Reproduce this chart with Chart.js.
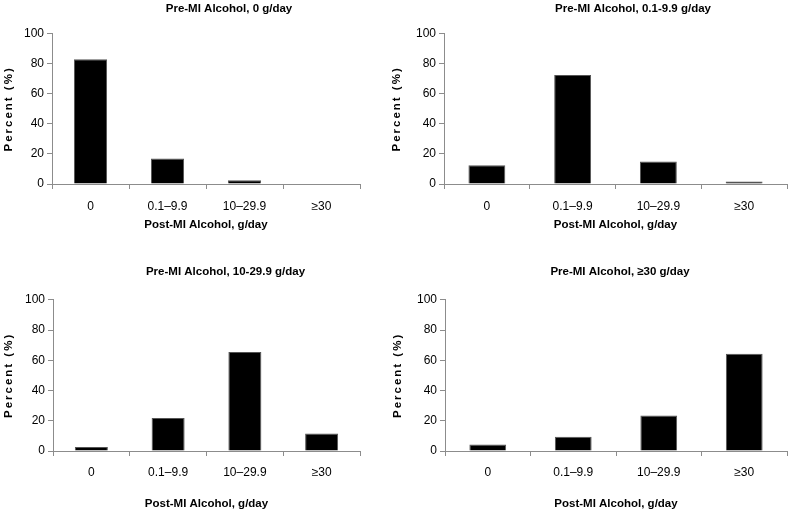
<!DOCTYPE html>
<html>
<head>
<meta charset="utf-8">
<script src="https://cdn.jsdelivr.net/npm/chart.js@4"></script>
<style>
  html, body { margin: 0; padding: 0; background: #fff; overflow: hidden; }
  body { width: 788px; height: 512px; position: relative; }
  .panel { position: absolute; }
</style>
</head>
<body>
<div class="panel" style="left:0px;top:0px;width:458px;height:233px"><canvas id="c1"></canvas></div>
<div class="panel" style="left:388px;top:0px;width:490px;height:233px"><canvas id="c2"></canvas></div>
<div class="panel" style="left:0px;top:260px;width:451px;height:252px"><canvas id="c3"></canvas></div>
<div class="panel" style="left:389px;top:260px;width:462px;height:252px"><canvas id="c4"></canvas></div>
<script>
  // categories on the x axis (post-MI intake)
  var postMiLabels = ['0', '0.1\u20139.9', '10\u201329.9', '\u226530'];

  // panel titles (pre-MI intake)
  var panelTitles = [
    'Pre-MI Alcohol, 0 g/day',
    'Pre-MI Alcohol, 0.1-9.9 g/day',
    'Pre-MI Alcohol, 10-29.9 g/day',
    'Pre-MI Alcohol, \u226530 g/day'
  ];

  // percent values
  var pre0Values  = [83, 17, 2.5, 0];
  var pre01Values = [12.5, 72.5, 15, 1.6];
  var pre10Values = [2.7, 21.8, 65.5, 11.5];
  var pre30Values = [4.3, 9.5, 23.4, 64.3];

  var yTicks = [0, 20, 40, 60, 80, 100];

  const FONT = "'Liberation Sans', Arial, sans-serif";
  const axisGray = '#8c8c8c';

  // letter-spaced y title like the original
  const spacedTitle = {
    id: 'spacedTitle',
    beforeDraw(chart) {
      const s = chart.scales.y;
      if (s && !s._spaced) {
        const orig = s.drawTitle.bind(s);
        s.drawTitle = function() {
          chart.ctx.save();
          chart.ctx.letterSpacing = '2px';
          orig();
          chart.ctx.restore();
        };
        s._spaced = true;
      }
    }
  };

  function makeChart(id, title, values, opts) {
    const ctx = document.getElementById(id);
    return new Chart(ctx, {
      type: 'bar',
      data: {
        labels: postMiLabels,
        datasets: [{
          data: values,
          backgroundColor: '#000',
          borderColor: '#555',
          borderWidth: 1,
          categoryPercentage: 1,
          barPercentage: 0.43
        }]
      },
      plugins: [spacedTitle],
      options: {
        responsive: true,
        maintainAspectRatio: false,
        animation: false,
        layout: { padding: 0 },
        plugins: {
          legend: { display: false },
          tooltip: { enabled: false },
          title: {
            display: true,
            text: title,
            color: '#000',
            font: { family: FONT, size: 11.5, weight: 'bold' },
            padding: { top: opts.titleTop, bottom: opts.titleBottom }
          }
        },
        scales: {
          x: {
            afterFit: function(s) { s.height = opts.xHeight; },
            grid: { display: true, drawOnChartArea: false, color: axisGray, tickLength: 5, offset: true },
            border: { display: true, color: axisGray, width: 1 },
            ticks: { color: '#000', font: { family: FONT, size: 12 }, padding: opts.tickPad, maxRotation: 0 },
            title: {
              display: true,
              text: 'Post-MI Alcohol, g/day',
              color: '#000',
              font: { family: FONT, size: 11.5, weight: 'bold' },
              padding: { top: 0, bottom: 1 }
            }
          },
          y: {
            min: 0,
            max: 100,
            afterFit: function(s) { s.width = opts.yWidth; },
            afterBuildTicks: function(s) { s.ticks = yTicks.map(v => ({ value: v })); },
            grid: { display: true, drawOnChartArea: false, color: axisGray, tickLength: 5 },
            border: { display: true, color: axisGray, width: 1 },
            ticks: { color: '#000', font: { family: FONT, size: 12 }, padding: 3 },
            title: {
              display: true,
              text: 'Percent (%)',
              color: '#000',
              font: { family: FONT, size: 11.5, weight: 'bold' },
              padding: { top: 2, bottom: 0 }
            }
          },
          // empty spacer on the right so the title centres like the original
          yRight: {
            type: 'linear',
            axis: 'y',
            position: 'right',
            display: true,
            afterFit: function(s) { s.width = opts.padRight; },
            grid: { display: false },
            border: { display: false },
            ticks: { display: false },
            title: { display: false }
          }
        }
      }
    });
  }

  makeChart('c1', panelTitles[0], pre0Values,
    { padRight: 98, titleTop: 2, titleBottom: 18, tickPad: 10, xHeight: 49, yWidth: 52 });
  makeChart('c2', panelTitles[1], pre01Values,
    { padRight: 91, titleTop: 2, titleBottom: 18, tickPad: 10, xHeight: 49, yWidth: 56 });
  makeChart('c3', panelTitles[2], pre10Values,
    { padRight: 91, titleTop: 5, titleBottom: 21, tickPad: 9, xHeight: 61, yWidth: 53 });
  makeChart('c4', panelTitles[3], pre30Values,
    { padRight: 64, titleTop: 5, titleBottom: 21, tickPad: 9, xHeight: 61, yWidth: 56 });
</script>
</body>
</html>
